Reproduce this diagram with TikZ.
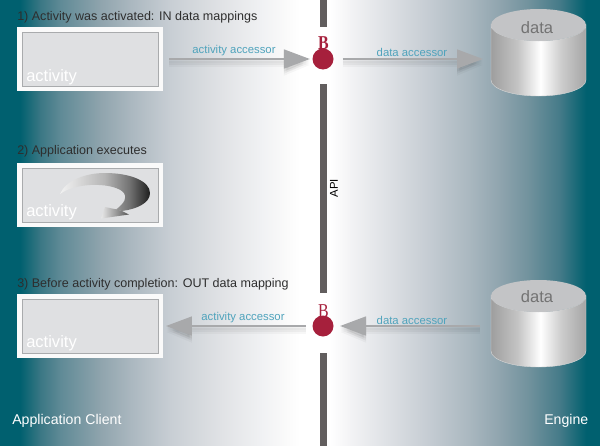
\documentclass[tikz,border=0pt]{standalone}
\usepackage{fontspec}
\setmainfont{Liberation Sans}
\newfontfamily\serifB{Liberation Serif}
\usetikzlibrary{arrows.meta}
\definecolor{teal0}{HTML}{00606F}
\definecolor{apigray}{HTML}{625E5E}
\definecolor{arrowgray}{HTML}{A8A9AB}
\definecolor{boxfill}{HTML}{DFE0E2}
\definecolor{boxline}{HTML}{A9ABAD}
\definecolor{crimson}{HTML}{A6203C}
\definecolor{labelblue}{HTML}{4FA3BC}
\definecolor{headtext}{HTML}{2E2E2E}
\definecolor{gA}{HTML}{3A7784}
\definecolor{gB}{HTML}{5F8A96}
\definecolor{gC}{HTML}{8FA4AD}
\definecolor{gD}{HTML}{AAB7BF}
\definecolor{gE}{HTML}{C8CED4}
\definecolor{gF}{HTML}{E0E2E5}
\definecolor{gG}{HTML}{F0F1F3}
\definecolor{gH}{HTML}{FAFAFA}
\definecolor{hA}{HTML}{F3F3F5}
\definecolor{hB}{HTML}{D6DADF}
\definecolor{hC}{HTML}{C4CBD2}
\definecolor{hD}{HTML}{A9B7BF}
\definecolor{hE}{HTML}{8FA4AE}
\definecolor{hF}{HTML}{6F919C}
\definecolor{hG}{HTML}{447A88}
\definecolor{hH}{HTML}{0F6674}
\definecolor{cylA}{HTML}{9E9E9E}
\definecolor{cylB}{HTML}{C4C4C4}
\definecolor{cylC}{HTML}{CCCCCC}
\definecolor{cylD}{HTML}{A5A5A5}
\definecolor{cyltop}{HTML}{C3C4C6}
\definecolor{spA}{HTML}{F2F2F2}
\definecolor{spB}{HTML}{B4B4B4}
\definecolor{spC}{HTML}{707070}
\definecolor{spD}{HTML}{1E1E1E}
\definecolor{spE}{HTML}{E8E8E8}
\definecolor{spF}{HTML}{555555}
\pgfdeclarehorizontalshading{cylshade}{100bp}{
 color(0bp)=(cylA); color(25bp)=(cylA); color(39bp)=(cylB);
 color(51bp)=(white); color(62bp)=(cylC); color(75bp)=(cylD); color(100bp)=(cylD)}
\tikzset{
 x=0.75pt,y=-0.75pt,
 frameout/.style={draw=none,fill=white!96!gray,minimum width=109.5pt,minimum height=48pt,inner sep=0pt,outer sep=0pt},
 framein/.style={draw=boxline,line width=0.75pt,fill=boxfill,minimum width=102pt,minimum height=40.5pt,inner sep=0pt},
 activitytext/.style={text=white,font=\fontsize{12.4pt}{14pt}\selectfont,anchor=base west,inner sep=0pt},
 headline/.style={text=headtext,font=\fontsize{9.4pt}{11pt}\selectfont,anchor=base west,inner sep=0pt},
 accessor/.style={text=labelblue,font=\fontsize{8.5pt}{10pt}\selectfont,inner sep=0pt},
 apibar/.style={draw=apigray,line width=5.25pt},
 bnode/.style={circle,fill=crimson,minimum size=15.75pt,inner sep=0pt,outer sep=0pt},
 bmark/.style={text=crimson,inner sep=0pt,xscale=.85,yscale=1.05},
 conn/.style={draw=arrowgray,line width=1.9pt,-{Triangle[length=19.5pt,width=14pt,fill=arrowgray]}},
 connshadow/.style={draw=black,line width=3.5pt,-{Triangle[length=19.5pt,width=15pt]}},
 cylnode/.style={minimum width=71.25pt,minimum height=65.25pt,inner sep=0pt,outer sep=0pt},
 clienttext/.style={text=white,font=\fontsize{10.6pt}{12pt}\selectfont,anchor=base west,inner sep=0pt},
}
\newcommand{\cylbody}[1]{%
 \shade[shading=cylshade,draw=white!70!gray,line width=.3pt]
   (491,#1) -- (491,#1+55) arc[start angle=180,end angle=0,x radius=47.5,y radius=16] -- (586,#1)
   arc[start angle=0,end angle=180,x radius=47.5,y radius=16] -- cycle;
 \fill[cyltop] (538.5,#1) ellipse[x radius=47.5,y radius=16];
}
\begin{document}
\begin{tikzpicture}
\useasboundingbox (0,0) rectangle (600,446);
\fill[teal0] (0,0) rectangle (600,446);
% background, band by band
\foreach \xa/\ca/\xb/\cb in {
 20/teal0/40/gA, 40/gA/60/gB, 60/gB/100/gC, 100/gC/130/gD, 130/gD/170/gE,
 170/gE/220/gF, 220/gF/260/gG, 260/gG/285/gH, 285/gH/300/white, 300/white/330/white,
 330/white/350/hA, 350/hA/400/hB, 400/hB/430/hC, 430/hC/470/hD, 470/hD/500/hE,
 500/hE/530/hF, 530/hF/560/hG, 560/hG/580/hH, 580/hH/586/teal0}{
 \shade[left color=\ca,right color=\cb] (\xa,0) rectangle (\xb+.4,446);
}

% API bars
\draw[apibar] (323.5,0) -- (323.5,27);
\draw[apibar] (323.5,84) -- (323.5,293);
\draw[apibar] (323.5,353) -- (323.5,446);
\node[rotate=90,font=\fontsize{8.5pt}{10pt}\selectfont,inner sep=0pt] (api) at (334,188) {API};

% cylinders
\cylbody{25}
\cylbody{296}
\node[cylnode] (d1) at (538.5,52.5) {};
\node[cylnode] (d2) at (538.5,323) {};
\node[text=black!55,font=\fontsize{12.4pt}{14pt}\selectfont,inner sep=0pt] (dt1) at (537,28) {data};
\node[text=black!55,font=\fontsize{12.4pt}{14pt}\selectfont,inner sep=0pt] (dt2) at (537,297) {data};

% activity boxes
\node[frameout] (a1) at (90,59) {};
\node[framein] (i1) at (a1) {};
\node[frameout] (a2) at (90,195) {};
\node[framein] (i2) at (a2) {};
\node[frameout] (a3) at (90,326) {};
\node[framein] (i3) at (a3) {};

% looping arrow
\begin{scope}
\clip (60,194) .. controls (66,180) and (86,173) .. (105,173)
 .. controls (130,173) and (150,181) .. (150,193)
 .. controls (150,203) and (137,209) .. (122,211)
 -- (116,209.5)
 .. controls (125,203) and (127,197) .. (124,193)
 .. controls (116,183) and (78,181) .. (60,194) -- cycle;
\shade[left color=spA,right color=spB] (60,170) rectangle (105.4,215);
\shade[left color=spB,right color=spC] (105,170) rectangle (130.4,215);
\shade[left color=spC,right color=spD] (130,170) rectangle (150,215);
\end{scope}
\shade[left color=spE,right color=spF]
 (129,214.5) -- (101,218.5) -- (105,207) -- (117,209.5) -- (122,211) -- cycle;

\node[activitytext] (t1) at (26,81) {activity};
\node[activitytext] (t2) at (26,216) {activity};
\node[activitytext] (t3) at (26,347) {activity};

% headings
\node[headline] (h1) at (17,20) {1) Activity was activated: IN data mappings};
\node[headline] (h2) at (17,154) {2) Application executes};
\node[headline] (h3) at (17,287) {3) Before activity completion: OUT data mapping};

% breakpoints
\node[bnode] (b1) at (323,59) {};
\node[bnode] (b2) at (323,326) {};
\node[bmark,font=\serifB\bfseries\fontsize{14pt}{14pt}\selectfont] (m1) at (323.5,43.5) {B};
\node[bmark,font=\serifB\fontsize{14pt}{14pt}\selectfont] (m2) at (323.5,311) {B};

% connector shadows
\foreach \sh/\op in {1.5pt/.05,3pt/.04,4.5pt/.03}{
\draw[connshadow,opacity=\op,shorten <=4.5pt,shorten >=1.9pt,transform canvas={shift={(0pt,-\sh)}}] (a1.east) -- (b1.west);
\draw[connshadow,opacity=\op,shorten <=7.1pt,shorten >=6pt,transform canvas={shift={(0pt,-\sh)}}] (b1.east) -- (b1.east -| d1.west);
\draw[connshadow,opacity=\op,shorten <=8.2pt,shorten >=4.9pt,transform canvas={shift={(0pt,-\sh)}}] (b2.east -| d2.west) -- (b2.east);
\draw[connshadow,opacity=\op,shorten <=4.9pt,shorten >=2.2pt,transform canvas={shift={(0pt,-\sh)}}] (b2.west) -- (a3.east);
}

% connectors
\draw[conn,shorten <=4.5pt,shorten >=1.9pt] (a1.east) -- (b1.west);
\draw[conn,shorten <=7.1pt,shorten >=6pt] (b1.east) -- (b1.east -| d1.west);
\draw[conn,shorten <=8.2pt,shorten >=4.9pt] (b2.east -| d2.west) -- (b2.east);
\draw[conn,shorten <=4.9pt,shorten >=2.2pt] (b2.west) -- (a3.east);

% connector labels
\node[accessor] (l1) at (234,51) {activity accessor};
\node[accessor] (l2) at (412,52) {data accessor};
\node[accessor] (l3) at (412,320) {data accessor};
\node[accessor] (l4) at (243,318) {activity accessor};

% side labels
\node[clienttext] (c1) at (12,424) {Application Client};
\node[clienttext] (c2) at (544,424) {Engine};
\end{tikzpicture}
\end{document}
